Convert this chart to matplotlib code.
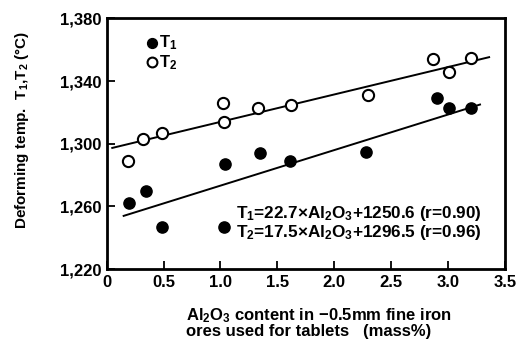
import matplotlib
matplotlib.use("Agg")
import numpy as np
import matplotlib.pyplot as plt

# Font setup: bold Arial-like text, mathtext in the same family for subscripts
plt.rcParams["font.family"] = ["Liberation Sans", "DejaVu Sans"]
plt.rcParams["font.weight"] = "bold"
plt.rcParams["mathtext.fontset"] = "custom"
plt.rcParams["mathtext.rm"] = "Liberation Sans:bold"
plt.rcParams["mathtext.it"] = "Liberation Sans:bold"
plt.rcParams["mathtext.bf"] = "Liberation Sans:bold"

# Data
t1_x = [0.20, 0.35, 0.49, 1.03, 1.04, 1.35, 1.61, 2.28, 2.90, 3.01, 3.20]
t1_y = [1262, 1270, 1247, 1247, 1287, 1294, 1289, 1295, 1329, 1323, 1323]
t2_x = [0.19, 0.32, 0.49, 1.02, 1.03, 1.33, 1.62, 2.30, 2.87, 3.01, 3.20]
t2_y = [1289, 1303, 1307, 1326, 1314, 1323, 1325, 1331, 1354, 1346, 1355]

# Regression lines given in the chart
t1_coef = (22.7, 1250.6)
t2_coef = (17.5, 1296.5)
t1_range = [0.15, 3.28]
t2_range = [0.05, 3.36]

x_ticks = [0, 0.5, 1.0, 1.5, 2.0, 2.5, 3.0, 3.5]
x_ticklabels = ["0", "0.5", "1.0", "1.5", "2.0", "2.5", "3.0", "3.5"]
y_ticks = [1220, 1260, 1300, 1340, 1380]
y_ticklabels = ["1,220", "1,260", "1,300", "1,340", "1,380"]

fig = plt.figure(figsize=(5.25, 3.42), dpi=100)
ax = fig.add_axes([0.203, 0.213, 0.759, 0.733])

# Fit lines
lx1 = np.array(t1_range)
ax.plot(lx1, t1_coef[0] * lx1 + t1_coef[1], color="black", lw=1.4)
lx2 = np.array(t2_range)
ax.plot(lx2, t2_coef[0] * lx2 + t2_coef[1], color="black", lw=1.4)

# Points
ax.scatter(t1_x, t1_y, s=65, color="black", zorder=3)
ax.scatter(t2_x, t2_y, s=65, facecolor="white", edgecolor="black", lw=1.5, zorder=3)

ax.set_xlim(0, 3.5)
ax.set_ylim(1220, 1380)
ax.set_xticks(x_ticks)
ax.set_xticklabels(x_ticklabels, fontsize=12)
ax.set_yticks(y_ticks)
ax.set_yticklabels(y_ticklabels, fontsize=12)
ax.tick_params(direction="in", length=6, width=1.3, pad=4)
for sp in ax.spines.values():
    sp.set_linewidth(2)

# Legend (drawn manually as in the original)
ax.scatter([0.40], [1364.5], s=50, color="black")
ax.text(0.46, 1364.5, r"T$_1$", fontsize=12, va="center")
ax.scatter([0.40], [1352], s=50, facecolor="white", edgecolor="black", lw=1.5)
ax.text(0.46, 1352, r"T$_2$", fontsize=12, va="center")

# Equations
ax.text(1.14, 1255.5, r"T$_1$=22.7×Al$_2$O$_3$+1250.6 (r=0.90)", fontsize=12.3, va="center")
ax.text(1.14, 1243.5, r"T$_2$=17.5×Al$_2$O$_3$+1296.5 (r=0.96)", fontsize=12.3, va="center")

# Axis labels
fig.text(0.042, 0.62, r"Deforming temp.  T$_1$,T$_2$ (°C)", rotation=90,
         fontsize=11, va="center", ha="center")
fig.text(0.355, 0.077, r"Al$_2$O$_3$ content in −0.5mm fine iron", fontsize=12, ha="left", va="center")
fig.text(0.355, 0.032, "ores used for tablets   (mass%)", fontsize=12, ha="left", va="center")

fig.savefig("out.png", dpi=100)
